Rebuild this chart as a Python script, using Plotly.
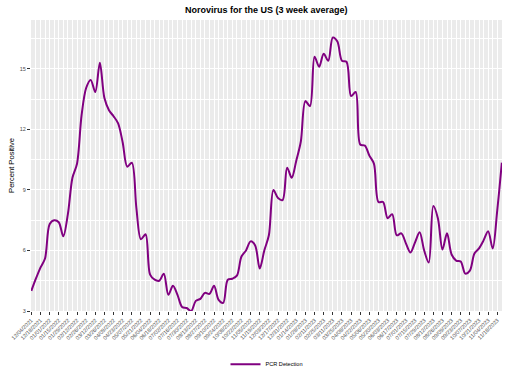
import pandas as pd
import plotly.graph_objects as go

start_date = "2021-12-04"
n_weeks = 104
dates = pd.date_range(start_date, periods=n_weeks, freq="7D").strftime("%Y-%m-%d").tolist()

pcr_detection = [
    4.0, 4.6, 5.15, 5.6, 7.3, 7.5, 7.4, 6.7, 7.8, 9.6,
    10.3, 12.7, 14.05, 14.45, 13.85, 15.3, 13.55, 12.95, 12.65, 12.3,
    11.35, 10.15, 10.35, 8.1, 6.55, 6.8, 4.8, 4.55, 4.5, 4.85,
    3.8, 4.25, 3.8, 3.2, 3.15, 3.0, 3.5, 3.6, 3.9, 3.85,
    4.25, 3.55, 3.4, 4.55, 4.6, 4.75, 5.7, 6.0, 6.45, 6.25,
    5.1, 6.0, 6.75, 9.0, 8.6, 8.5, 10.1, 9.6, 10.45, 11.4,
    13.4, 13.15, 15.6, 15.1, 15.75, 15.4, 16.55, 16.35, 15.4, 15.35,
    13.65, 13.85, 11.25, 11.2, 10.7, 10.3, 8.4, 8.4, 7.6, 7.8,
    6.75, 6.85, 6.35, 5.9, 6.4, 6.9, 6.0, 5.4, 8.2, 7.6,
    6.05, 6.85, 5.8, 5.5, 5.45, 4.85, 5.0, 5.85, 6.1, 6.5,
    6.95, 6.1, 8.0, 10.35,
]

y_ticks = [3, 6, 9, 12, 15]
series_name = "PCR Detection"
title_text = "Norovirus for the US (3 week average)"
y_title = "Percent Positive"

DAY_MS = 86400000

fig = go.Figure()
fig.add_trace(go.Scatter(
    x=dates, y=pcr_detection, mode="lines", name=series_name,
    line=dict(color="#800080", width=2, shape="spline", smoothing=0.9),
    showlegend=True,
))

fig.update_layout(
    width=510, height=375,
    margin=dict(l=31, r=8, t=19.5, b=64.3, autoexpand=False),
    paper_bgcolor="white",
    plot_bgcolor="#EBEBEB",
    font=dict(family="Liberation Sans, Arial, sans-serif", color="#4D4D4D"),
    title=dict(text="<b>" + title_text + "</b>", x=0.522, xanchor="center",
               y=1 - 10 / 375, yanchor="middle", yref="container",
               font=dict(size=9, color="black")),
    showlegend=True,
    legend=dict(orientation="h", x=0.5, xanchor="center", y=-0.183, yanchor="middle",
                font=dict(size=5.6, color="black"), bgcolor="rgba(0,0,0,0)"),
)

fig.update_xaxes(
    type="date", automargin=False,
    range=["2021-12-03 12:00", "2023-11-25 06:00"],
    tick0=start_date, dtick=14 * DAY_MS, tickformat="%m/%d/%Y",
    tickangle=-45, tickfont=dict(size=5.5, color="#4D4D4D"),
    ticks="outside", ticklen=3, tickcolor="#333333", tickwidth=0.6,
    showgrid=True, gridcolor="white", gridwidth=1,
    minor=dict(dtick=7 * DAY_MS, tick0=start_date, showgrid=True, gridcolor="white", gridwidth=0.5),
    showline=False, zeroline=False,
)

fig.update_yaxes(
    automargin=False,
    range=[3, 17.42],
    tickvals=y_ticks, ticktext=[str(v) for v in y_ticks],
    tickfont=dict(size=5.5, color="#4D4D4D"),
    ticks="outside", ticklen=3, tickcolor="#333333", tickwidth=0.6,
    showgrid=True, gridcolor="white", gridwidth=1,
    minor=dict(dtick=1.5, tick0=0, showgrid=True, gridcolor="white", gridwidth=0.5),
    title=dict(text=y_title, font=dict(size=7.6, color="black"), standoff=4),
    showline=False, zeroline=False,
)

fig.write_html(
    "out.html",
    config={"displayModeBar": False, "staticPlot": False},
    post_script="document.body.style.margin='0';document.body.style.overflow='hidden';",
)
